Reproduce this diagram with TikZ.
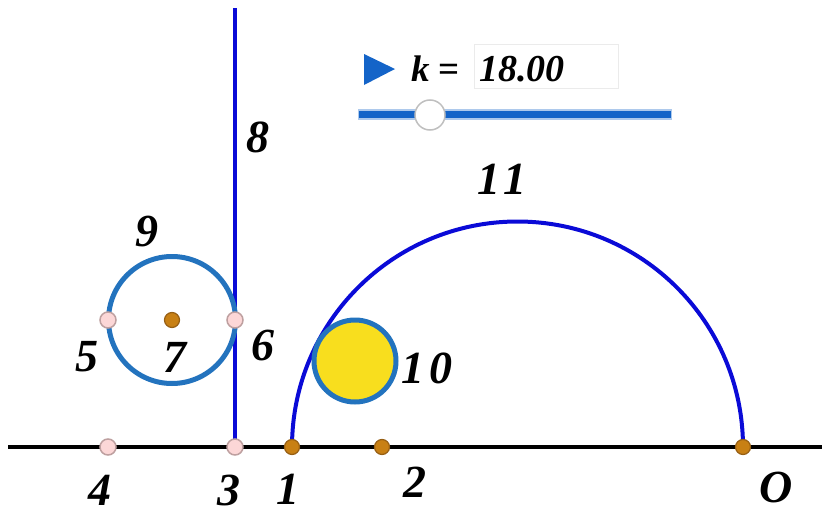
\documentclass[tikz,border=0pt]{standalone}
\usepackage{fontspec}
\setmainfont{Liberation Serif}
\begin{document}
\begin{tikzpicture}[x=1pt,y=-1pt,
  lbl/.style={font=\fontsize{46}{46}\selectfont\bfseries\itshape, inner sep=0pt},
  opt/.style={circle, draw=ptborder, fill=ptorange, line width=1.2pt, minimum size=15pt, inner sep=0pt},
  ppt/.style={circle, draw=pkborder, fill=ptpink, line width=1.5pt, minimum size=16pt, inner sep=0pt}]
\definecolor{ptorange}{RGB}{200,128,20}
\definecolor{ptborder}{RGB}{150,95,20}
\definecolor{ptpink}{RGB}{252,215,215}
\definecolor{pkborder}{RGB}{190,160,160}
\definecolor{lineblue}{RGB}{10,10,215}
\definecolor{circblue}{RGB}{35,115,190}
\definecolor{sunyellow}{RGB}{248,222,30}
\definecolor{sliderblue}{RGB}{20,100,200}
\useasboundingbox (0,0) rectangle (822,514);
% axis
\coordinate (axL) at (8,447);
\coordinate (axR) at (822,447);
\draw[line width=4pt] (axL) -- (axR);
% vertical line
\coordinate (vt) at (235,8);
\coordinate (vb) at (235,447);
\draw[lineblue, line width=4pt] (vt) -- (vb);
% semicircle 11
\draw[lineblue, line width=4pt] (292,447) arc[start angle=180, end angle=360, radius=225.5];
% circle 9
\draw[circblue, line width=5pt] (172,320) circle[radius=63.5];
% circle 10
\draw[circblue, line width=5pt, fill=sunyellow] (355,361) circle[radius=41];
% points
\node[ppt] (p4) at (108,447) {};
\node[ppt] (p3) at (235,447) {};
\node[opt] (p1) at (292,447) {};
\node[opt] (p2) at (382,447) {};
\node[opt] (pO) at (743,447) {};
\node[ppt] (p5) at (108,320) {};
\node[ppt] (p6) at (235,320) {};
\node[opt] (p7) at (172,320) {};
% labels
\node[lbl] (l8) at (258,137) {8};
\node[lbl] (l9) at (147,232) {9};
\node[lbl] (l5) at (87,357) {5};
\node[lbl] (l7) at (175,357) {7};
\node[lbl] (l6) at (263,345) {6};
\node[lbl] (l10) at (427,368) {1\kern5pt0};
\node[lbl] (l11) at (502,179) {1\kern4pt1};
\node[lbl] (l4) at (100,490) {4};
\node[lbl] (l3) at (229,490) {3};
\node[lbl] (l1) at (288,489) {1};
\node[lbl] (l2) at (415,482) {2};
\node[lbl] (lO) at (776,487) {O};
% slider
\fill[sliderblue] (364,54) -- (395,69) -- (364,85) -- cycle;
\node[draw=black!8, line width=1pt, minimum width=144pt, minimum height=44pt, inner sep=0pt] (box) at (546,66) {};
\node[font=\fontsize{37}{37}\selectfont\bfseries, anchor=west, inner sep=0pt] (kk) at (411,69) {\textit{k} =};
\node[font=\fontsize{38}{38}\selectfont\bfseries\itshape, anchor=west, inner sep=0pt] (kv) at (479,69) {18.00};
\draw[sliderblue!35, line width=11pt] (358,114) -- (672,114);
\draw[sliderblue, line width=7pt] (359,114) -- (671,114);
\node[circle, draw=black!25, fill=white, line width=1.5pt, minimum size=30pt, inner sep=0pt] (knob) at (430,115) {};
\end{tikzpicture}
\end{document}
